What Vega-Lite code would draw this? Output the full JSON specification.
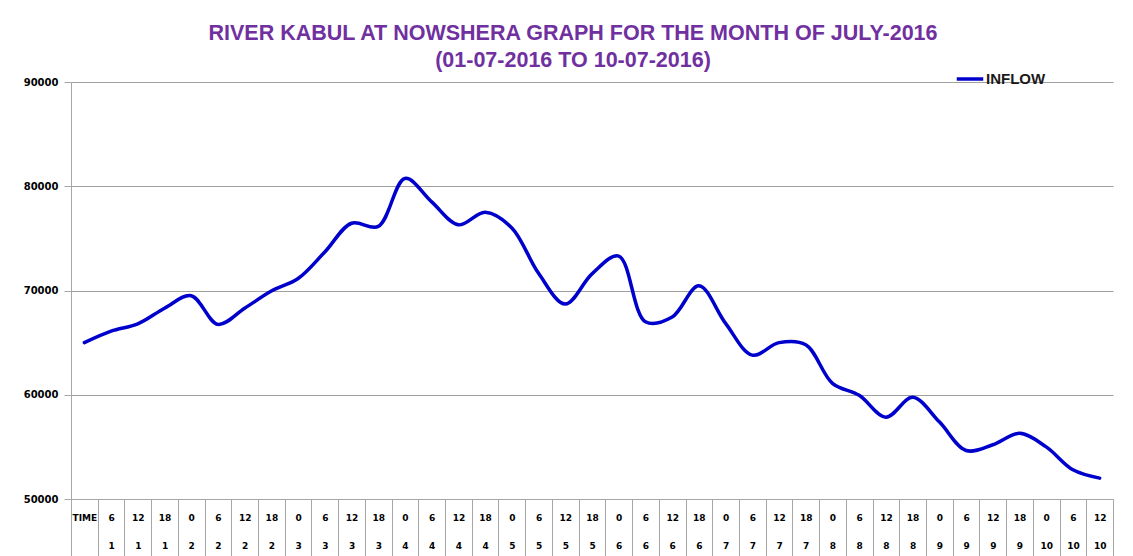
{
  "$schema": "https://vega.github.io/schema/vega-lite/v6.json",
  "autosize": {"type": "none"},
  "width": 1042,
  "height": 417,
  "padding": {"left": 71, "top": 82, "right": 20, "bottom": 57},
  "background": "white",
  "config": {"view": {"stroke": null}},
  "title": {
    "text": ["RIVER  KABUL AT NOWSHERA  GRAPH  FOR THE MONTH OF JULY-2016", "(01-07-2016  TO  10-07-2016)"],
    "font": "Liberation Sans",
    "fontSize": 21.5,
    "fontWeight": "bold",
    "color": "#7030A0",
    "anchor": "middle",
    "dx": -19,
    "lineHeight": 27,
    "offset": -7
  },
  "data": {
    "values": [
      {"t": "TIME|", "v": 65000, "s": "INFLOW"},
      {"t": "6|1", "v": 66100, "s": "INFLOW"},
      {"t": "12|1", "v": 66800, "s": "INFLOW"},
      {"t": "18|1", "v": 68300, "s": "INFLOW"},
      {"t": "0|2", "v": 69500, "s": "INFLOW"},
      {"t": "6|2", "v": 66750, "s": "INFLOW"},
      {"t": "12|2", "v": 68300, "s": "INFLOW"},
      {"t": "18|2", "v": 69950, "s": "INFLOW"},
      {"t": "0|3", "v": 71150, "s": "INFLOW"},
      {"t": "6|3", "v": 73700, "s": "INFLOW"},
      {"t": "12|3", "v": 76450, "s": "INFLOW"},
      {"t": "18|3", "v": 76150, "s": "INFLOW"},
      {"t": "0|4", "v": 80750, "s": "INFLOW"},
      {"t": "6|4", "v": 78500, "s": "INFLOW"},
      {"t": "12|4", "v": 76300, "s": "INFLOW"},
      {"t": "18|4", "v": 77500, "s": "INFLOW"},
      {"t": "0|5", "v": 76000, "s": "INFLOW"},
      {"t": "6|5", "v": 71650, "s": "INFLOW"},
      {"t": "12|5", "v": 68700, "s": "INFLOW"},
      {"t": "18|5", "v": 71600, "s": "INFLOW"},
      {"t": "0|6", "v": 73300, "s": "INFLOW"},
      {"t": "6|6", "v": 67000, "s": "INFLOW"},
      {"t": "12|6", "v": 67450, "s": "INFLOW"},
      {"t": "18|6", "v": 70450, "s": "INFLOW"},
      {"t": "0|7", "v": 66850, "s": "INFLOW"},
      {"t": "6|7", "v": 63800, "s": "INFLOW"},
      {"t": "12|7", "v": 65000, "s": "INFLOW"},
      {"t": "18|7", "v": 64800, "s": "INFLOW"},
      {"t": "0|8", "v": 61100, "s": "INFLOW"},
      {"t": "6|8", "v": 59950, "s": "INFLOW"},
      {"t": "12|8", "v": 57850, "s": "INFLOW"},
      {"t": "18|8", "v": 59750, "s": "INFLOW"},
      {"t": "0|9", "v": 57400, "s": "INFLOW"},
      {"t": "6|9", "v": 54650, "s": "INFLOW"},
      {"t": "12|9", "v": 55200, "s": "INFLOW"},
      {"t": "18|9", "v": 56300, "s": "INFLOW"},
      {"t": "0|10", "v": 55000, "s": "INFLOW"},
      {"t": "6|10", "v": 52800, "s": "INFLOW"},
      {"t": "12|10", "v": 52000, "s": "INFLOW"}
    ]
  },
  "mark": {"type": "line", "interpolate": "catmull-rom", "strokeWidth": 3.5, "strokeCap": "round"},
  "encoding": {
    "x": {
      "field": "t",
      "type": "ordinal",
      "sort": null,
      "scale": {"type": "band", "paddingInner": 0, "paddingOuter": 0},
      "axis": {
        "title": null,
        "orient": "bottom",
        "tickBand": "extent",
        "tickSize": 57,
        "tickColor": "#a6a6a6",
        "tickWidth": 1,
        "domainColor": "#a6a6a6",
        "labelAngle": 0,
        "labelExpr": "isValid(datum.value) ? split(datum.value, '|') : ''",
        "labelFont": "DejaVu Sans",
        "labelFontSize": 9,
        "labelFontWeight": "bold",
        "labelColor": "#000000",
        "labelPadding": -43,
        "labelBaseline": "top",
        "labelLineHeight": 28,
        "labelOverlap": false,
        "labelFlush": false
      }
    },
    "y": {
      "field": "v",
      "type": "quantitative",
      "scale": {"domain": [50000, 90000], "nice": false, "zero": false},
      "axis": {
        "title": null,
        "values": [50000, 60000, 70000, 80000, 90000],
        "format": "d",
        "labelFont": "DejaVu Sans",
        "labelFontSize": 10,
        "labelFontWeight": "bold",
        "labelColor": "#000000",
        "labelPadding": 6,
        "tickSize": 7,
        "tickColor": "#a6a6a6",
        "domainColor": "#a6a6a6",
        "grid": true,
        "gridColor": "#a0a0a0",
        "gridWidth": 1
      }
    },
    "color": {
      "field": "s",
      "type": "nominal",
      "scale": {"range": ["#0000CC"]},
      "legend": {
        "title": null,
        "orient": "none",
        "legendX": 884,
        "legendY": -18,
        "symbolType": "stroke",
        "symbolSize": 700,
        "symbolStrokeWidth": 3.5,
        "labelFont": "Liberation Sans",
        "labelFontSize": 15,
        "labelFontWeight": "bold",
        "labelColor": "#1a1a1a",
        "labelOffset": 1
      }
    }
  }
}
